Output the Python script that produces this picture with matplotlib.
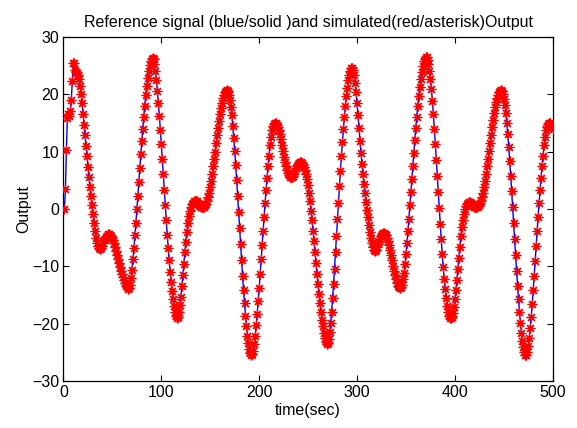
import numpy as np
import matplotlib
matplotlib.use("Agg")
import matplotlib.pyplot as plt

plt.rcParams["font.family"] = ["Liberation Sans", "DejaVu Sans"]

# time axis (sec), one sample per second
TIME = list(range(1, 501))

# output, 10 samples per row
OUTPUT = [
    0.0, 3.5, 10.3, 15.8, 16.5, 16.2, 17.0, 19.0, 22.3, 25.4,
    25.5, 24.2, 23.8, 23.7, 23.4, 22.6, 21.4, 20.1, 18.4, 16.5,
    14.6, 12.8, 11.0, 9.2, 7.3, 5.5, 3.8, 2.3, 0.7, -0.9,
    -2.5, -3.9, -5.0, -5.9, -6.5, -6.9, -7.0, -6.8, -6.4, -5.9,
    -5.5, -5.2, -4.9, -4.7, -4.5, -4.4, -4.4, -4.5, -4.7, -5.0,
    -5.4, -6.0, -6.7, -7.4, -8.1, -8.8, -9.5, -10.2, -10.8, -11.4,
    -11.9, -12.4, -12.9, -13.3, -13.7, -13.9, -13.8, -13.2, -12.1, -10.6,
    -8.8, -6.8, -4.6, -2.4, -0.1, 2.3, 4.7, 7.1, 9.5, 11.8,
    14.0, 16.1, 18.0, 19.8, 21.4, 22.8, 24.0, 25.0, 25.7, 26.2,
    26.3, 26.1, 25.3, 24.0, 22.4, 20.5, 18.4, 16.2, 13.8, 11.3,
    8.7, 6.0, 3.3, 0.6, -2.0, -4.5, -6.8, -9.0, -11.0, -12.8,
    -14.4, -15.8, -17.0, -18.0, -18.7, -19.1, -18.8, -18.0, -16.8, -15.3,
    -13.5, -11.6, -9.6, -7.6, -5.7, -4.0, -2.5, -1.3, -0.4, 0.3,
    0.8, 1.1, 1.3, 1.4, 1.4, 1.3, 1.1, 0.9, 0.7, 0.5,
    0.4, 0.3, 0.3, 0.4, 0.6, 0.9, 1.4, 2.0, 2.8, 3.8,
    4.9, 6.1, 7.4, 8.7, 10.0, 11.4, 12.8, 14.1, 15.4, 16.6,
    17.6, 18.5, 19.3, 19.9, 20.4, 20.6, 20.7, 20.5, 19.9, 19.0,
    17.8, 16.3, 14.5, 12.4, 10.1, 7.6, 5.0, 2.2, -0.6, -3.4,
    -6.2, -9.0, -11.7, -14.2, -16.5, -18.6, -20.5, -22.1, -23.4, -24.4,
    -25.1, -25.4, -25.3, -24.7, -23.6, -22.1, -20.3, -18.3, -16.1, -13.8,
    -11.3, -8.8, -6.3, -3.8, -1.4, 1.0, 3.3, 5.4, 7.4, 9.3,
    11.1, 12.6, 13.7, 14.4, 14.8, 14.9, 14.9, 14.7, 14.3, 13.7,
    13.0, 12.1, 11.1, 10.1, 9.1, 8.2, 7.4, 6.8, 6.3, 5.9,
    5.6, 5.5, 5.5, 5.6, 5.8, 6.2, 6.6, 7.1, 7.5, 7.8,
    8.0, 8.1, 8.1, 8.0, 7.7, 7.3, 6.8, 6.1, 5.2, 4.1,
    2.8, 1.3, -0.3, -2.0, -3.8, -5.6, -7.5, -9.4, -11.3, -13.1,
    -14.8, -16.4, -17.9, -19.3, -20.5, -21.6, -22.5, -23.2, -23.6, -23.4,
    -22.7, -21.5, -19.9, -17.9, -15.6, -13.1, -10.4, -7.6, -4.7, -1.8,
    1.1, 3.9, 6.6, 9.2, 11.6, 13.9, 16.0, 17.9, 19.6, 21.1,
    22.4, 23.4, 24.1, 24.5, 24.6, 24.2, 23.3, 22.0, 20.3, 18.4,
    16.3, 14.1, 11.9, 9.8, 7.8, 6.0, 4.3, 2.7, 1.2, -0.2,
    -1.5, -2.8, -4.0, -5.1, -6.0, -6.7, -7.1, -7.3, -7.1, -6.7,
    -6.2, -5.7, -5.2, -4.8, -4.5, -4.3, -4.2, -4.2, -4.3, -4.6,
    -5.0, -5.6, -6.3, -7.1, -8.0, -9.0, -9.9, -10.8, -11.6, -12.3,
    -12.9, -13.4, -13.6, -13.8, -13.7, -13.2, -12.3, -11.1, -9.6, -7.9,
    -6.0, -3.9, -1.7, 0.6, 2.9, 5.2, 7.5, 9.8, 12.0, 14.1,
    16.1, 18.0, 19.7, 21.3, 22.7, 23.9, 24.9, 25.7, 26.2, 26.5,
    26.4, 26.0, 25.2, 24.1, 22.7, 20.9, 18.8, 16.5, 14.0, 11.3,
    8.5, 5.7, 2.9, 0.1, -2.7, -5.3, -7.8, -10.1, -12.2, -14.0,
    -15.6, -16.9, -17.9, -18.6, -19.0, -19.1, -18.8, -18.1, -17.1, -15.8,
    -14.2, -12.4, -10.5, -8.5, -6.6, -4.8, -3.2, -1.9, -0.9, -0.1,
    0.5, 0.9, 1.1, 1.2, 1.2, 1.1, 0.9, 0.7, 0.5, 0.4,
    0.3, 0.3, 0.4, 0.5, 0.7, 1.0, 1.4, 2.0, 2.8, 3.8,
    4.9, 6.1, 7.4, 8.7, 10.1, 11.5, 12.9, 14.2, 15.5, 16.7,
    17.7, 18.6, 19.3, 19.9, 20.3, 20.6, 20.7, 20.5, 20.0, 19.2,
    18.1, 16.7, 15.0, 13.0, 10.8, 8.4, 5.8, 3.1, 0.3, -2.5,
    -5.3, -8.1, -10.8, -13.4, -15.8, -18.0, -19.9, -21.6, -23.0, -24.1,
    -24.9, -25.4, -25.4, -24.9, -23.9, -22.5, -20.8, -18.8, -16.6, -14.2,
    -11.7, -9.1, -6.5, -3.9, -1.4, 1.0, 3.3, 5.4, 7.4, 9.3,
    11.1, 12.6, 13.7, 14.4, 14.8, 14.9, 14.9, 14.7, 14.4, 14.0,
]

# blue line = reference, red asterisks = simulated (they coincide in the picture)
REFERENCE = OUTPUT
SIMULATED = OUTPUT

XTICKS = [0, 100, 200, 300, 400, 500]
YTICKS = [-30, -20, -10, 0, 10, 20, 30]

fig = plt.figure(figsize=(5.77, 4.28), dpi=100)
ax = fig.add_axes([0.110, 0.110, 0.848, 0.804])

ax.plot(TIME, REFERENCE, "-", color="b", lw=1.0, zorder=2)
# MATLAB style '*' = 8-armed asterisk
ax.plot(TIME, SIMULATED, ls="none", marker=(8, 2, 0), ms=7, mew=0.9,
        color="r", mec="r", zorder=3)

ax.set_xlim(0, 500); ax.set_ylim(-30, 30)
ax.set_xticks(XTICKS); ax.set_yticks(YTICKS)
ax.tick_params(direction="in", top=True, right=True, length=4, width=0.8,
               labelsize=11.5, pad=3)
for s in ax.spines.values():
    s.set_linewidth(0.9)

ax.set_xlabel("time(sec)", fontsize=11.5, labelpad=2)
ax.set_ylabel("Output", fontsize=11.5, labelpad=1)
ax.set_title("Reference signal (blue/solid )and simulated(red/asterisk)Output",
             fontsize=11.5, pad=7)

fig.savefig("out.png", dpi=100)
